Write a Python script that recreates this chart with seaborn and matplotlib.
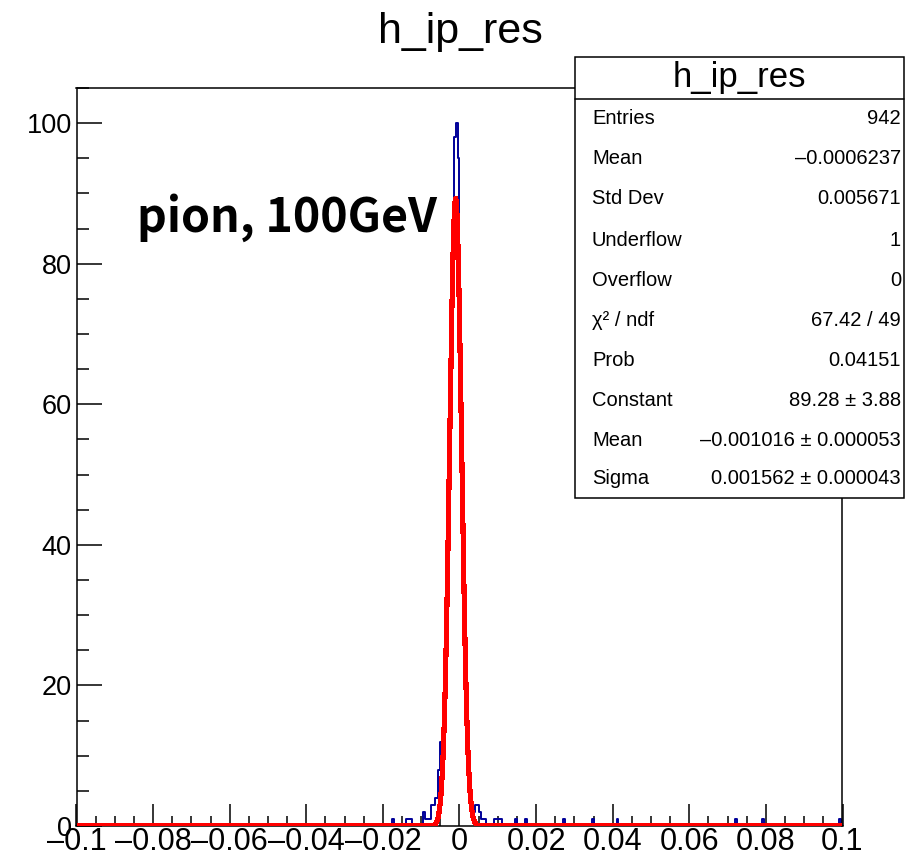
import numpy as np
import pandas as pd
import matplotlib
matplotlib.use("Agg")
import matplotlib.pyplot as plt
from matplotlib.patches import Rectangle
from matplotlib.lines import Line2D
from matplotlib.ticker import MultipleLocator, FixedLocator, FixedFormatter
import seaborn as sns

# ---------------- data ----------------
title = "h_ip_res"
annotation = "pion, 100GeV"
x_min, x_max, bin_width = -0.1, 0.1, 0.0005

# low edge of every non-empty bin and its content
bin_low = [-0.0175, -0.0140, -0.0135, -0.0130, -0.0095, -0.0090, -0.0085, -0.0080,
           -0.0075, -0.0070, -0.0065, -0.0060, -0.0055, -0.0050, -0.0045, -0.0040,
           -0.0035, -0.0030, -0.0025, -0.0020, -0.0015, -0.0010, -0.0005, 0.0000,
           0.0005, 0.0010, 0.0015, 0.0020, 0.0025, 0.0030, 0.0035, 0.0040,
           0.0045, 0.0050, 0.0055, 0.0060, 0.0065, 0.0090, 0.0095, 0.0100,
           0.0105, 0.0145, 0.0170, 0.0270, 0.0345, 0.0410, 0.0720, 0.0790, 0.0990]
counts = [1, 1, 1, 1, 2, 1, 1, 1,
          3, 3, 4, 4, 8, 12, 13, 22,
          32, 50, 65, 80, 98, 100, 95, 69,
          42, 27, 21, 10, 5, 3, 2, 3,
          3, 2, 1, 1, 1, 1, 1, 1,
          1, 1, 1, 1, 1, 1, 1, 1, 1]

fit_constant, fit_mean, fit_sigma = 89.28, -0.001016, 0.001562

stat_names = ["Entries", "Mean", "Std Dev", "Underflow", "Overflow",
              "χ² / ndf", "Prob", "Constant", "Mean", "Sigma"]
stat_values = ["942", "–0.0006237", "0.005671", "1", "0",
               "67.42 / 49", "0.04151", "89.28 ± 3.88",
               "–0.001016 ± 0.000053", "0.001562 ± 0.000043"]

x_ticks = [-0.1, -0.08, -0.06, -0.04, -0.02, 0.0, 0.02, 0.04, 0.06, 0.08, 0.1]
x_tick_labels = ["–0.1", "–0.08", "–0.06", "–0.04", "–0.02", "0",
                 "0.02", "0.04", "0.06", "0.08", "0.1"]
y_ticks = [0, 20, 40, 60, 80, 100]
y_tick_labels = ["0", "20", "40", "60", "80", "100"]
y_max = 105

# ---------------- style ----------------
sns.set_theme(style="ticks")
plt.rcParams["font.family"] = ["Liberation Sans", "DejaVu Sans"]

W, H = 920, 859
fig = plt.figure(figsize=(W / 100, H / 100), dpi=100)
fig.patch.set_facecolor("white")


def fx(px):
    return px / W


def fy(py):
    return 1 - py / H


ax_l, ax_r, ax_t, ax_b = 76.5, 842.5, 88, 826
ax = fig.add_axes([fx(ax_l), fy(ax_b), (ax_r - ax_l) / W, (ax_b - ax_t) / H])
ax.set_facecolor("white")

df = pd.DataFrame({"x": np.array(bin_low) + bin_width / 2, "w": counts})
sns.histplot(data=df, x="x", weights="w", binwidth=bin_width, binrange=(x_min, x_max),
             element="step", fill=False, color="#000099", linewidth=1.4, ax=ax, zorder=2)

xs = np.linspace(x_min, x_max, 8001)
fit_df = pd.DataFrame({"x": xs,
                       "y": fit_constant * np.exp(-0.5 * ((xs - fit_mean) / fit_sigma) ** 2)})
sns.lineplot(data=fit_df, x="x", y="y", color="#ff0000", linewidth=3.0, ax=ax,
             zorder=3, antialiased=False, estimator=None, sort=False)

ax.set_xlim(x_min, x_max)
ax.set_ylim(0, y_max)
ax.set_xlabel("")
ax.set_ylabel("")

ax.xaxis.set_major_locator(FixedLocator(x_ticks))
ax.xaxis.set_major_formatter(FixedFormatter(x_tick_labels))
ax.xaxis.set_minor_locator(MultipleLocator(0.005))
ax.yaxis.set_major_locator(FixedLocator(y_ticks))
ax.yaxis.set_major_formatter(FixedFormatter(y_tick_labels))
ax.yaxis.set_minor_locator(MultipleLocator(5))

ax.tick_params(axis="x", which="major", direction="in", length=15.5, width=1.1,
               labelsize=22, pad=1, color="black", labelcolor="black")
ax.tick_params(axis="x", which="minor", direction="in", length=7.5, width=1.1, color="black")
ax.tick_params(axis="y", which="major", direction="in", length=18, width=1.1,
               labelsize=19.5, pad=3.5, color="black", labelcolor="black")
ax.tick_params(axis="y", which="minor", direction="in", length=8.7, width=1.1, color="black")
ax.tick_params(top=False, right=False, which="both")
for s in ax.spines.values():
    s.set_visible(True)
    s.set_color("black")
    s.set_linewidth(1.1)

# title
fig.text(fx(460), fy(43), title, ha="center", va="baseline", fontsize=31, color="black")

# annotation
fig.text(fx(137), fy(232), annotation, ha="left", va="baseline", fontsize=33.5,
         fontweight="bold", color="black", family=["Noto Sans CJK JP", "DejaVu Sans"])

# stats box
bx_l, bx_r, bx_t, bx_b = 575, 904, 57, 498
fig.add_artist(Rectangle((fx(bx_l), fy(bx_b)), (bx_r - bx_l) / W, (bx_b - bx_t) / H,
                         transform=fig.transFigure, facecolor="white",
                         edgecolor="black", linewidth=1.1, zorder=5))
fig.add_artist(Line2D([fx(bx_l), fx(bx_r)], [fy(99), fy(99)], transform=fig.transFigure,
                      color="black", linewidth=1.1, zorder=6))
fig.text(fx((bx_l + bx_r) / 2), fy(78), title, ha="center", va="center", fontsize=25,
         color="black", zorder=7)
row_y = [118, 158, 198, 240, 280, 320, 360, 400, 440, 479]
for name, val, yy in zip(stat_names, stat_values, row_y):
    fig.text(fx(592), fy(yy), name, ha="left", va="center", fontsize=14.5,
             color="black", zorder=7)
    fig.text(fx(901), fy(yy), val, ha="right", va="center", fontsize=14.5,
             color="black", zorder=7)

fig.savefig("out.png", dpi=100, facecolor="white")
